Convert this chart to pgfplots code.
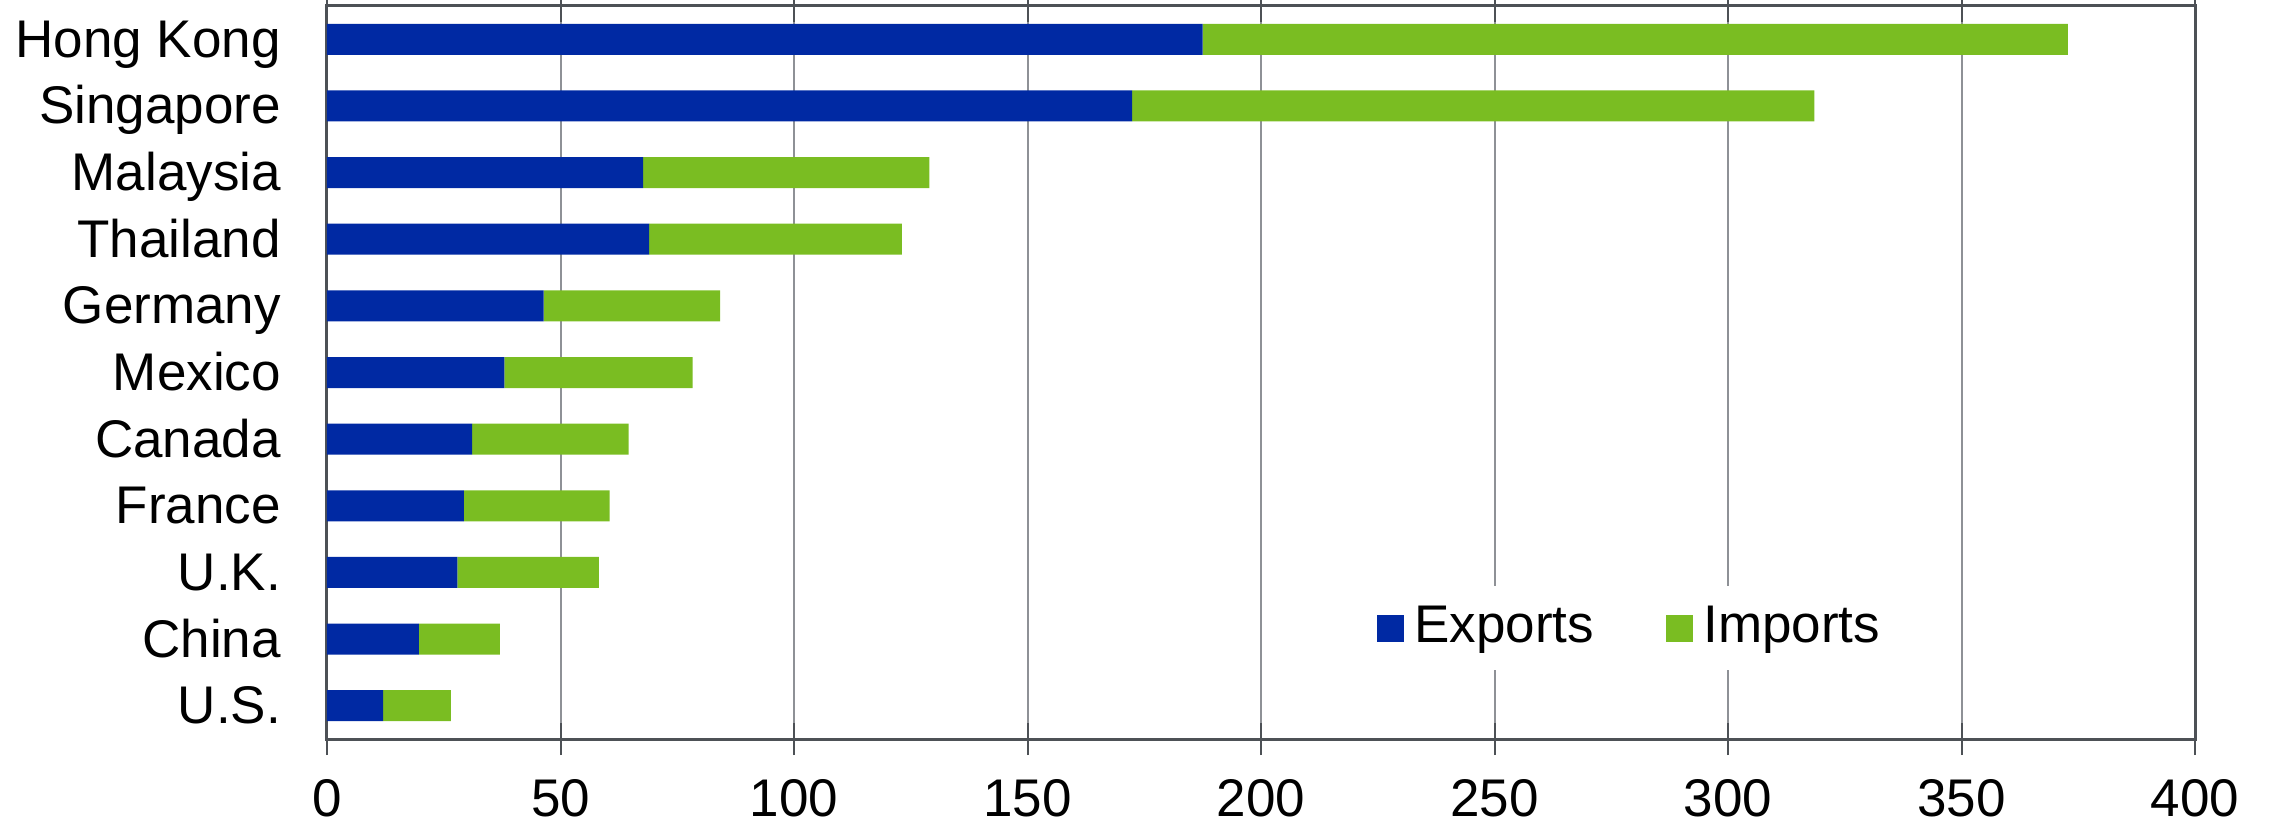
\documentclass[border=0pt]{standalone}
\usepackage{fontspec}
\setmainfont{Liberation Sans}
\usepackage{pgfplots}
\pgfplotsset{compat=1.18}
\definecolor{expblue}{HTML}{0029A3}
\definecolor{impgreen}{HTML}{7ABD22}
\definecolor{gridgray}{HTML}{8E9196}
\definecolor{axisgray}{HTML}{4D5156}
\begin{document}
\begin{tikzpicture}[font=\fontsize{10.6}{12.7}\selectfont]
\path[use as bounding box] (-65.4pt,-18.2pt) rectangle (388.6pt,147.8pt);
\begin{axis}[
  at={(0,0)}, anchor=south west,
  scale only axis, width=373.6pt, height=146.6pt,
  xbar stacked, bar width=6.2pt,
  xmin=0, xmax=400, ymin=-0.5, ymax=10.5,
  xtick={0,50,...,400},
  ytick={0,...,10},
  yticklabels={U.S.,China,U.K.,France,Canada,Mexico,Germany,Thailand,Malaysia,Singapore,Hong Kong},
  xmajorgrids, grid style={gridgray, line width=0.4pt},
  axis line style={axisgray, line width=0.6pt},
  x tick style={axisgray, line width=0.4pt},
  tick align=center, major tick length=6.4pt,
  y tick style={draw=none},
  /pgf/number format/assume math mode=true,
  tick label style={font=\fontsize{10.6}{12.7}\selectfont},
  xticklabel style={yshift=-1.4pt},
  yticklabel style={anchor=base east, xshift=-2.5pt, yshift=-3.6pt},
  legend columns=2,
  legend style={draw=none, fill=white, at={(0.6995,0.151)}, anchor=center,
    font=\fontsize{10.6}{12.7}\selectfont,
    /tikz/every even column/.append style={column sep=12.5pt}},
  legend image code/.code={\fill[#1] (0pt,-2.7pt) rectangle (5.4pt,2.7pt);},
]
\addplot[fill=expblue, draw=none] coordinates {
(12.0,0) (19.7,1) (27.9,2) (29.3,3) (31.1,4) (38.0,5) (46.4,6) (69.0,7) (67.7,8) (172.4,9) (187.5,10)};
\addplot[fill=impgreen, draw=none] coordinates {
(14.5,0) (17.3,1) (30.3,2) (31.2,3) (33.5,4) (40.3,5) (37.8,6) (54.1,7) (61.3,8) (146.1,9) (185.3,10)};
\legend{Exports,Imports}
\end{axis}
\end{tikzpicture}
\end{document}
